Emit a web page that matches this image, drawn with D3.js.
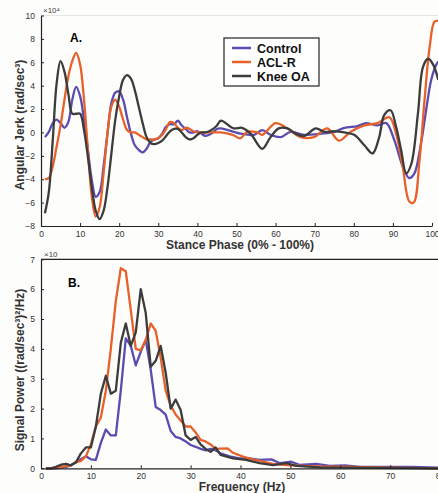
<!DOCTYPE html>
<html>
<head>
<meta charset="utf-8">
<script src="https://cdn.jsdelivr.net/npm/d3@7"></script>
<style>
  body { margin: 0; background: #fdfdfb; }
  svg { display: block; font-family: "Liberation Sans", Arial, sans-serif; }
  .tick text { font-size: 8.5px; fill: #333; }
  .axis-label { font-size: 12px; font-weight: bold; fill: #333; }
</style>
</head>
<body>
<svg id="chart"></svg>
<script>
// panel A: angular jerk vs stance phase, [x, y] pairs (y in x10^4)
var seriesNames = ["Control", "ACL-R", "Knee OA"];
var seriesColors = ["#5a4cb0", "#e8602a", "#3c3c3c"];

var controlA = [[1,-0.4],[2,0.05],[3,0.8],[4,1.1],[5,0.8],[6,0.4],[7,0.9],[8,2.8],[9,3.9],[10,3.1],
  [11,1.1],[12,-1.5],[13,-4.1],[14,-5.5],[15,-5.1],[16,-2.9],[17,-0.1],[18,2.5],[19,3.4],[20,3.5],
  [21,2.8],[22,1.3],[23,-0.1],[24,-1.1],[25,-1.5],[26,-1.7],[27,-1.4],[28,-0.8],[29,-0.6],[30,-0.5],
  [31,-0.1],[32,0.5],[33,0.7],[34,0.7],[35,1.0],[36,0.6],[37,0.3],[38,0.0],[39,0.0],[40,0.1],
  [41,-0.1],[42,-0.3],[43,-0.2],[44,0.0],[45,0.3],[46,0.35],[51,-0.1],[54.5,-0.2],[56.6,0.2],[58.7,-0.2],
  [61.3,-0.4],[63.8,0.05],[67.3,-0.2],[71.6,-0.1],[75,0.05],[77.6,0.4],[81,0.55],[83.1,0.8],[86.1,0.6],[88.3,0.8],
  [90.4,-0.7],[92.5,-2.9],[94.2,-3.9],[95.5,-3.5],[97.2,-0.9],[98.5,1.9],[99.8,4.5],[101.1,5.8],[102,6.2]];

var aclA = [[1,-4.0],[2,-3.9],[3,-2.9],[4,-1.2],[5,0.6],[6,2.8],[7,4.8],[8,6.1],[9,6.8],[10,5.8],
  [11,2.8],[12,-1.5],[13,-5.5],[14,-7.2],[15,-6.4],[16,-3.5],[17,-0.1],[18,2.2],[19,2.8],[20,2.2],
  [21,1.1],[22,0.2],[23,0.0],[24,0.0],[25,-0.2],[26,-0.4],[27,-0.6],[28,-0.6],[29,-0.6],[30,-0.5],
  [31,-0.2],[32,0.3],[33,0.9],[34,0.8],[35,0.4],[36,0.2],[37,0.4],[38,0.3],[39,0.1],[40,0.0],
  [43,0.0],[46,0.0],[49,-0.2],[51,-0.5],[52.7,0.05],[55.3,0.0],[56.6,-0.2],[60,0.8],[63,0.35],[66.4,-0.4],
  [69.8,-0.4],[73.2,0.35],[76.2,-0.7],[79.2,0.05],[82.7,0.6],[86.1,0.8],[89.1,1.3],[90.8,-0.1],[92.5,-2.9],[94.2,-5.9],
  [95.3,-6.0],[96.8,-2.4],[98.1,2.8],[99.4,7.3],[100.7,9.5],[102,9.5]];

var kneeA = [[1,-6.9],[2,-5.1],[3,-0.7],[4,4.2],[5,6.1],[6,5.2],[7,3.3],[8,1.6],[9,1.6],[10,1.6],
  [11,0.2],[12,-2.1],[13,-4.7],[14,-6.7],[15,-7.4],[16,-6.7],[17,-4.7],[18,-1.8],[19,1.1],[20,3.1],
  [21,4.5],[22,4.9],[23,4.6],[24,3.6],[25,2.2],[26,0.8],[27,-0.4],[28,-0.9],[29,-1.0],[30,-0.9],
  [31,-0.7],[32,-0.3],[33,0.1],[34,0.3],[35,0.3],[36,0.0],[37,-0.4],[38,-0.6],[39,-0.5],[40,-0.2],
  [41,0.0],[42,0.0],[43,0.1],[44,0.3],[45,0.6],[46,1.0],[49.3,0.35],[51.4,0.4],[53.6,-0.1],[56.6,-1.4],
  [58.7,-0.4],[60.8,0.35],[63,0.35],[65.1,-0.1],[67.3,-0.3],[70.3,0.35],[72.4,0.05],[75,0.1],[77.6,0.0],[80.1,-0.2],
  [82.7,-1.1],[84.8,-1.8],[86.5,-0.4],[87.8,1.5],[89.4,1.9],[90.8,0.5],[92.1,-1.5],[93.4,-3.5],[94.7,-2.7],[96.4,1.6],
  [97.7,5.6],[99,6.3],[100.3,5.8],[101.6,4.5]];

// panel B: signal power vs frequency (Hz)
var controlB = [[1,0],[2,0],[3,0],[4,0.02],[5,0.05],[6,0.1],[7,0.2],[8,0.3],[9,0.4],[10,0.3],
  [11,0.28],[12,0.85],[13,1.3],[14,1.1],[15,1.1],[16,2.6],[17,4.35],[18,4.1],[19,3.45],[20,3.9],
  [21,4.3],[22,3.3],[23,2.05],[24,1.95],[25,1.8],[26,1.25],[27,1.05],[28,1.0],[29,0.9],[30,0.78],
  [31,0.72],[32,0.65],[33,0.6],[34,0.65],[35,0.6],[36,0.5],[37.8,0.4],[39.8,0.33],[41.8,0.33],[43.8,0.28],
  [46.2,0.3],[47.9,0.17],[50.2,0.22],[51.9,0.11],[55.2,0.15],[57.9,0.08],[60.9,0.1],[63.9,0.05],[68,0.05],[74.4,0.05],
  [80,0.02]];

var aclB = [[1,0],[2,0],[3,0.02],[4,0.05],[5,0.07],[6,0.1],[7,0.2],[8,0.25],[9,0.4],[10,0.8],
  [11,1.4],[12,1.7],[13,2.6],[14,4.0],[15,5.6],[16,6.7],[17,6.6],[18,5.3],[19,4.0],[20,3.95],
  [21,4.3],[22,4.85],[23,4.6],[24,3.7],[25,2.6],[26,2.1],[27,1.8],[28,1.6],[29,1.4],[30,1.4],
  [31,1.2],[32,0.95],[33,0.9],[34,0.8],[35,0.65],[36,0.66],[37.4,0.67],[38.5,0.52],[40.5,0.39],[42.5,0.3],
  [44.5,0.22],[46.5,0.15],[49.2,0.11],[52.6,0.08],[55.9,0.06],[62.6,0.05],[69.3,0.02],[80,0]];

var kneeB = [[1,0],[2,0],[3,0.05],[4,0.12],[5,0.15],[6,0.1],[7,0.2],[8,0.5],[9,0.7],[10,0.7],
  [11,1.4],[12,2.5],[13,3.1],[14,2.5],[15,2.6],[16,4.2],[17,4.85],[18,4.1],[19,4.55],[20,6.0],
  [21,5.2],[22,3.4],[23,3.6],[24,4.1],[25,3.2],[26,2.0],[27,2.3],[28,1.95],[29,1.1],[30,0.95],
  [31,1.05],[32,0.8],[33,0.65],[34,0.55],[35,0.7],[36,0.45],[38.5,0.33],[41.1,0.28],[43.8,0.17],[46.5,0.11],
  [49.2,0.17],[51.2,0.08],[55.9,0.03],[62.6,0.02],[80,0]];

var ticksA_x = [0,10,20,30,40,50,60,70,80,90,100];
var ticksA_y = [-8,-6,-4,-2,0,2,4,6,8,10];
var ticksB_x = [0,10,20,30,40,50,60,70,80];
var ticksB_y = [0,1,2,3,4,5,6,7];

var width = 438, height = 493;
var fmt = d3.format("d");
var svg = d3.select("#chart").attr("width", width).attr("height", height);

svg.append("defs").append("clipPath").attr("id", "clipA")
  .append("rect").attr("x", 41).attr("y", 10).attr("width", 397).attr("height", 217);

// ---------- panel A ----------
var xA = d3.scaleLinear().domain([0, 100]).range([41, 432]);
var yA = d3.scaleLinear().domain([-8, 10]).range([226, 15.5]);

svg.append("line").attr("x1", 41).attr("x2", 438).attr("y1", yA(10)).attr("y2", yA(10))
  .attr("stroke", "#e4e4e4");

var lineA = d3.line().x((d) => xA(d[0])).y((d) => yA(d[1])).curve(d3.curveCatmullRom);
var gA = svg.append("g").attr("clip-path", "url(#clipA)");
[controlA, aclA, kneeA].forEach(function (s, i) {
  gA.append("path").datum(s).attr("d", lineA).attr("fill", "none")
    .attr("stroke", seriesColors[i]).attr("stroke-width", 2.3);
});

var xAxisA = svg.append("g").attr("transform", "translate(0," + yA(-8) + ")")
  .call(d3.axisBottom(xA).tickValues(ticksA_x).tickFormat(fmt).tickSizeInner(-3).tickSizeOuter(0).tickPadding(5));
var yAxisA = svg.append("g").attr("transform", "translate(41,0)")
  .call(d3.axisLeft(yA).tickValues(ticksA_y).tickFormat(fmt).tickSizeInner(-3).tickSizeOuter(0).tickPadding(6));
[xAxisA, yAxisA].forEach(function (ax) {
  ax.select(".domain").attr("stroke", "#222").attr("stroke-width", 1.2);
  ax.selectAll(".tick line").attr("stroke", "#222");
});

svg.append("text").attr("x", 43).attr("y", 13).attr("font-size", 8).attr("fill", "#444")
  .text("×10⁴");
svg.append("text").attr("x", 70).attr("y", 42).attr("font-size", 12).attr("font-weight", "bold")
  .text("A.");

svg.append("text").attr("class", "axis-label").attr("x", 240).attr("y", 249)
  .attr("text-anchor", "middle").text("Stance Phase (0% - 100%)");
svg.append("text").attr("class", "axis-label").attr("transform", "translate(24,125) rotate(-90)")
  .attr("text-anchor", "middle").text("Angular Jerk (rad/sec³)");

// legend
var legend = svg.append("g").attr("transform", "translate(224,38)");
legend.append("rect").attr("width", 95).attr("height", 48).attr("fill", "#fff")
  .attr("stroke", "#222").attr("stroke-width", 1.2);
seriesNames.forEach(function (name, i) {
  var yy = 10 + i * 14;
  legend.append("line").attr("x1", 8).attr("x2", 27).attr("y1", yy).attr("y2", yy)
    .attr("stroke", seriesColors[i]).attr("stroke-width", 2.5);
  legend.append("text").attr("x", 33).attr("y", yy + 4.5).attr("font-size", 12.5)
    .attr("font-weight", "bold").attr("fill", "#111").text(name);
});

// ---------- panel B ----------
var xB = d3.scaleLinear().domain([0, 80]).range([41, 440]);
var yB = d3.scaleLinear().domain([0, 7]).range([468.3, 259.3]);

svg.append("line").attr("x1", 41).attr("x2", 438).attr("y1", yB(7)).attr("y2", yB(7))
  .attr("stroke", "#222").attr("stroke-width", 1.2);

var lineB = d3.line().x((d) => xB(d[0])).y((d) => yB(d[1]));
[controlB, aclB, kneeB].forEach(function (s, i) {
  svg.append("path").datum(s).attr("d", lineB).attr("fill", "none")
    .attr("stroke", seriesColors[i]).attr("stroke-width", 2.3).attr("stroke-linejoin", "round");
});

var xAxisB = svg.append("g").attr("transform", "translate(0," + yB(0) + ")")
  .call(d3.axisBottom(xB).tickValues(ticksB_x).tickFormat(fmt).tickSizeInner(-3).tickSizeOuter(0).tickPadding(5));
var yAxisB = svg.append("g").attr("transform", "translate(41,0)")
  .call(d3.axisLeft(yB).tickValues(ticksB_y).tickFormat(fmt).tickSizeInner(-3).tickSizeOuter(0).tickPadding(6));
[xAxisB, yAxisB].forEach(function (ax) {
  ax.select(".domain").attr("stroke", "#222").attr("stroke-width", 1.2);
  ax.selectAll(".tick line").attr("stroke", "#222");
});

svg.append("text").attr("x", 44).attr("y", 257).attr("font-size", 8).attr("fill", "#444")
  .text("×10");
svg.append("text").attr("x", 68).attr("y", 287).attr("font-size", 12).attr("font-weight", "bold")
  .text("B.");

svg.append("text").attr("class", "axis-label").attr("x", 242).attr("y", 491)
  .attr("text-anchor", "middle").text("Frequency (Hz)");
svg.append("text").attr("class", "axis-label").attr("transform", "translate(24,370) rotate(-90)")
  .attr("text-anchor", "middle").text("Signal Power ((rad/sec³)²/Hz)");
</script>
</body>
</html>
